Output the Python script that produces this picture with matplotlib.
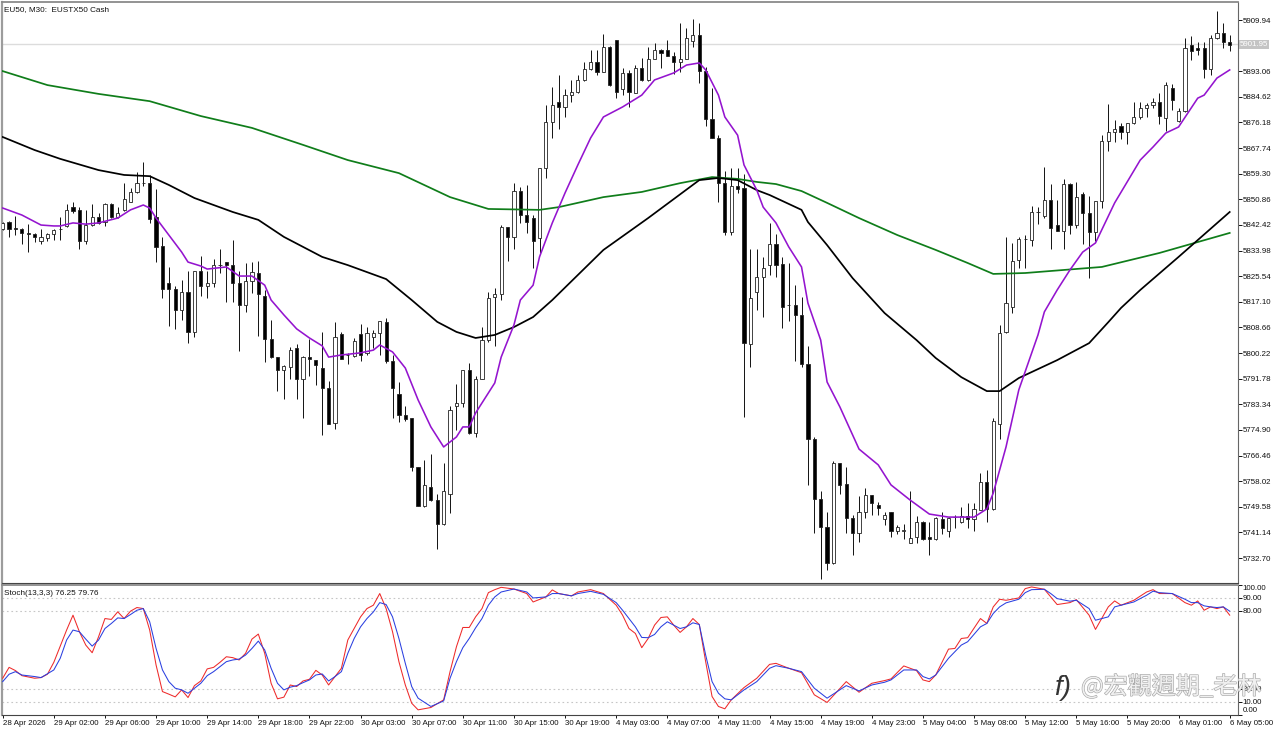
import matplotlib
matplotlib.use('Agg')
import matplotlib.pyplot as plt
import matplotlib.patheffects as pe

W, H = 1280, 731

# EU50 M30 candles
opens = [5841.1,5843.3,5841.3,5841.1,5839.7,5839.6,5837.3,5838.2,5839.3,5841.0,
         5842.0,5848.2,5847.2,5837.1,5842.3,5845.2,5843.4,5849.3,5845.2,5847.2,
         5850.1,5853.2,5856.1,5856.2,5845.0,5835.4,5823.3,5821.2,5814.3,5820.4,
         5807.2,5827.4,5822.2,5823.2,5829.3,5830.3,5829.3,5823.2,5815.9,5823.9,
         5826.7,5818.9,5804.9,5798.8,5794.8,5795.8,5801.8,5791.7,5798.8,5797.8,
         5795.4,5788.8,5777.1,5806.4,5799.6,5799.4,5806.4,5800.1,5805.6,5806.7,
         5810.6,5797.7,5786.7,5779.8,5778.8,5762.8,5749.7,5756.0,5751.8,5743.8,
         5753.7,5782.7,5783.8,5794.5,5773.8,5791.7,5804.5,5818.7,5819.6,5841.6,
         5838.5,5853.6,5845.6,5844.6,5838.2,5861.1,5876.2,5883.0,5881.2,5885.1,
         5886.1,5890.2,5893.9,5896.2,5892.9,5901.2,5903.3,5887.1,5892.4,5886.0,
         5894.0,5890.1,5897.1,5900.1,5900.1,5898.2,5896.1,5897.2,5903.1,5905.1,
         5893.3,5877.2,5871.2,5856.1,5840.2,5855.3,5854.5,5803.2,5820.4,5825.4,
         5829.2,5836.2,5829.5,5816.2,5816.2,5812.8,5796.6,5771.9,5752.1,5743.1,
         5731.0,5763.9,5757.0,5746.0,5740.9,5748.0,5753.4,5750.1,5745.6,5747.8,
         5741.7,5741.7,5737.8,5739.5,5744.7,5739.5,5738.9,5745.6,5741.7,5746.1,
         5744.5,5746.6,5745.7,5748.6,5757.8,5748.8,5776.8,5807.3,5815.5,5830.9,
         5837.7,5837.5,5846.6,5845.5,5850.6,5842.4,5840.5,5855.8,5842.4,5852.5,
         5846.5,5840.0,5850.2,5870.2,5872.9,5875.0,5872.9,5875.9,5877.9,5880.8,
         5881.8,5883.0,5877.5,5887.4,5876.6,5879.9,5901.7,5900.6,5900.6,5893.7,
         5903.9,5905.6,5902.8]
closes = [5843.2,5841.2,5841.1,5839.7,5839.6,5838.5,5838.4,5839.3,5840.9,5841.1,
          5847.2,5847.0,5837.1,5842.3,5845.2,5843.2,5849.3,5845.2,5846.3,5851.1,
          5853.4,5856.1,5856.2,5844.3,5835.3,5821.2,5821.2,5814.3,5820.5,5807.2,
          5827.3,5822.2,5823.2,5829.3,5829.4,5829.3,5823.2,5815.9,5823.9,5826.8,
          5819.8,5804.9,5798.8,5794.8,5796.0,5801.4,5791.7,5798.8,5798.4,5796.4,
          5788.7,5777.0,5805.4,5798.3,5799.5,5804.3,5799.5,5806.7,5806.7,5810.7,
          5797.7,5788.7,5779.8,5778.6,5762.6,5749.9,5756.7,5751.7,5743.8,5754.9,
          5781.6,5783.8,5794.5,5773.8,5791.7,5804.5,5818.4,5819.7,5841.6,5838.5,
          5853.6,5845.6,5843.5,5837.3,5861.3,5876.2,5881.9,5881.2,5885.1,5886.1,
          5890.2,5893.9,5896.2,5892.9,5901.2,5888.5,5886.1,5892.4,5886.1,5894.0,
          5890.1,5897.2,5900.2,5899.0,5898.2,5896.1,5897.2,5904.1,5905.1,5893.3,
          5877.2,5871.2,5856.1,5840.2,5855.3,5854.2,5803.4,5818.3,5825.4,5828.4,
          5836.2,5829.2,5815.5,5816.1,5812.8,5796.6,5771.9,5752.1,5743.1,5731.0,
          5763.9,5756.9,5745.8,5740.9,5748.0,5753.4,5751.0,5749.1,5746.9,5741.6,
          5742.8,5741.8,5739.4,5744.7,5738.9,5738.9,5745.8,5742.6,5745.8,5746.2,
          5746.6,5745.7,5748.8,5757.8,5748.8,5777.9,5806.7,5816.6,5830.7,5837.7,
          5837.8,5846.6,5846.7,5850.6,5841.3,5840.5,5855.8,5842.4,5851.5,5846.3,
          5840.0,5850.2,5870.2,5872.9,5874.0,5872.9,5875.9,5878.1,5880.8,5881.9,
          5883.0,5878.4,5888.5,5883.6,5879.9,5900.6,5899.8,5900.1,5893.8,5903.9,
          5905.6,5902.8,5901.7]
highs = [5843.5,5843.6,5845.5,5841.3,5842.7,5839.8,5841.2,5839.7,5841.2,5844.9,
         5849.3,5850.1,5848.2,5847.2,5849.3,5846.3,5849.6,5849.6,5848.2,5856.1,
         5854.7,5860.0,5863.3,5858.9,5854.4,5838.4,5828.5,5822.3,5824.3,5827.4,
         5827.4,5832.2,5827.4,5831.2,5834.4,5830.3,5837.5,5827.4,5830.0,5830.1,
         5830.7,5821.0,5811.1,5799.0,5796.3,5802.1,5803.2,5799.3,5804.8,5798.1,
         5807.1,5791.0,5810.4,5807.1,5800.1,5805.3,5809.8,5808.7,5807.8,5810.7,
         5811.7,5799.6,5790.6,5782.8,5778.8,5762.8,5765.0,5766.9,5753.8,5763.9,
         5782.8,5790.0,5794.6,5796.8,5792.7,5808.9,5820.3,5821.7,5842.4,5841.8,
         5856.1,5855.0,5855.6,5845.7,5861.3,5881.9,5888.0,5891.8,5887.1,5890.2,
         5891.8,5896.2,5900.1,5900.1,5905.3,5901.4,5903.4,5894.0,5893.5,5895.1,
         5897.3,5901.2,5902.3,5900.3,5903.4,5899.5,5909.1,5907.2,5910.2,5909.1,
         5894.4,5887.4,5872.1,5860.3,5861.1,5861.1,5859.2,5834.4,5834.4,5832.0,
         5843.2,5839.5,5832.0,5830.0,5822.7,5818.8,5802.7,5772.5,5754.9,5748.0,
         5764.8,5764.1,5762.8,5746.9,5753.2,5755.9,5753.5,5751.3,5748.0,5747.8,
         5743.6,5743.8,5754.8,5746.6,5744.8,5744.7,5746.3,5747.8,5746.3,5746.9,
         5749.6,5750.7,5750.7,5760.6,5761.7,5778.7,5809.5,5838.6,5836.6,5838.6,
         5839.1,5848.8,5848.4,5861.6,5855.8,5850.6,5857.6,5856.4,5856.5,5853.4,
         5852.1,5850.3,5872.1,5882.2,5877.0,5875.9,5876.1,5883.0,5883.0,5882.5,
         5884.4,5886.0,5889.6,5888.8,5880.8,5903.9,5904.8,5902.8,5902.8,5905.0,
         5912.9,5908.8,5905.0]
lows = [5840.8,5838.4,5839.1,5836.2,5833.6,5836.7,5836.0,5837.1,5837.5,5837.5,
        5841.8,5846.3,5834.4,5836.0,5842.1,5842.7,5842.1,5844.6,5844.7,5847.0,
        5849.9,5852.8,5855.3,5843.2,5830.3,5818.3,5809.2,5808.1,5811.1,5803.4,
        5805.4,5819.1,5818.3,5821.9,5826.7,5817.1,5817.1,5800.8,5813.9,5819.9,
        5805.9,5797.3,5798.5,5787.6,5785.0,5791.6,5785.0,5778.7,5792.7,5789.6,
        5773.1,5776.9,5775.3,5798.2,5796.5,5799.0,5797.7,5799.6,5801.8,5799.6,
        5796.8,5778.7,5777.6,5777.7,5761.5,5749.9,5749.6,5751.6,5735.8,5743.7,
        5747.7,5774.9,5782.6,5773.6,5772.7,5791.6,5804.0,5802.7,5817.7,5830.7,
        5834.6,5843.0,5839.7,5828.1,5833.1,5858.0,5871.2,5873.9,5877.9,5883.0,
        5885.8,5889.9,5893.5,5891.8,5892.8,5888.3,5884.1,5885.1,5881.2,5885.8,
        5890.0,5890.0,5897.0,5894.0,5898.1,5892.2,5892.9,5897.0,5901.2,5889.1,
        5875.0,5871.0,5850.1,5839.1,5839.1,5853.1,5779.3,5795.5,5814.4,5812.2,
        5825.9,5825.4,5808.4,5810.9,5797.7,5795.8,5756.8,5740.9,5725.8,5728.8,
        5730.8,5753.7,5740.9,5733.7,5737.9,5745.8,5746.9,5746.9,5743.6,5739.5,
        5740.5,5738.9,5737.7,5737.8,5738.7,5733.7,5738.7,5740.5,5739.5,5742.7,
        5744.4,5742.5,5741.7,5748.5,5744.5,5748.5,5771.9,5806.8,5813.3,5828.4,
        5828.4,5835.6,5842.6,5844.6,5834.5,5840.4,5834.5,5839.3,5841.5,5836.0,
        5825.1,5837.3,5847.9,5866.9,5869.9,5870.6,5869.1,5875.7,5877.2,5877.9,
        5880.8,5875.7,5873.5,5880.3,5876.3,5879.6,5896.8,5898.4,5890.7,5891.8,
        5903.7,5900.6,5899.8]

# moving averages, read at these bars
purple_bars = [0,3,6,8,9,11,13,15,18,20,22,23,24,26,28,29,31,32,35,37,39,41,42,44,46,48,50,51,53,56,58,59,61,63,65,67,69,71,72,73,74,77,78,80,81,83,84,86,88,90,92,94,97,100,102,105,107,109,110,112,113,115,116,118,119,121,123,125,126,128,129,131,134,137,139,142,145,148,152,154,155,157,159,162,163,165,167,169,171,174,178,180,182,184,187,188,190,192]
purple_ma = [5848.0,5845.7,5842.4,5842.1,5842.1,5843.1,5842.7,5843.1,5844.7,5847.4,5849.0,5848.0,5844.7,5839.1,5833.5,5830.2,5828.9,5827.9,5828.6,5825.6,5825.6,5822.6,5817.7,5812.8,5808.2,5805.2,5802.6,5798.9,5799.6,5800.3,5801.2,5802.9,5800.6,5795.3,5784.8,5775.9,5769.3,5772.6,5775.9,5775.9,5780.5,5790.4,5798.9,5809.5,5817.7,5822.6,5831.9,5843.1,5853.0,5862.2,5871.1,5878.0,5881.3,5885.2,5890.2,5892.5,5895.1,5895.8,5893.5,5885.2,5878.0,5872.0,5862.2,5853.9,5848.3,5843.1,5835.2,5828.6,5816.7,5804.5,5790.7,5782.5,5768.6,5763.4,5756.8,5751.8,5747.2,5746.2,5746.2,5748.9,5754.1,5769.3,5788.1,5806.2,5813.8,5821.0,5827.6,5833.5,5836.5,5849.7,5863.8,5868.1,5872.7,5874.7,5884.2,5885.2,5890.8,5893.5]
black_bars = [0,5,9,15,19,23,26,30,36,40,44,50,54,60,64,68,71,74,77,80,83,86,94,101,109,112,115,118,120,125,126,129,133,138,143,146,150,154,156,159,165,170,173,175,178,184,192]
black_ma = [5871.4,5867.1,5864.2,5860.5,5858.9,5858.5,5855.6,5851.3,5846.7,5844.1,5838.5,5831.9,5829.2,5824.6,5817.7,5810.5,5807.2,5805.2,5806.2,5808.8,5812.1,5817.7,5834.2,5844.7,5857.2,5857.9,5857.2,5853.9,5852.3,5847.4,5843.4,5835.8,5824.9,5813.4,5804.5,5798.6,5792.3,5787.7,5787.7,5792.0,5797.9,5803.5,5810.4,5815.1,5821.0,5831.9,5846.7]
green_bars = [0,7,15,23,31,39,47,54,62,70,76,84,87,94,100,106,111,115,118,121,125,129,134,140,146,151,155,160,172,181,186,192]
green_ma = [5893.1,5888.5,5885.6,5883.2,5878.3,5874.4,5868.8,5863.8,5859.5,5851.6,5847.7,5847.4,5848.3,5851.6,5853.3,5856.2,5858.2,5857.6,5856.6,5855.9,5853.6,5849.7,5844.7,5839.1,5834.2,5829.9,5826.3,5826.6,5828.6,5833.2,5836.2,5839.8]

# stochastic
k_bars = [0,1,2,3,5,6,7,8,10,11,12,13,14,15,16,17,18,19,20,21,22,23,24,25,26,27,28,29,30,31,32,33,34,35,36,37,38,39,40,41,42,43,44,45,46,47,48,49,50,51,52,53,54,55,56,57,58,59,60,61,62,63,64,65,67,69,70,71,72,73,74,75,76,77,78,80,82,83,85,86,87,89,90,92,94,96,97,98,99,100,101,102,103,104,105,106,107,108,109,110,111,112,113,114,116,118,120,121,123,125,127,129,132,134,136,138,139,141,143,144,145,146,148,149,150,151,153,154,155,156,157,159,160,161,163,164,165,167,168,170,171,173,174,175,177,179,180,181,183,185,186,187,188,189,190,191,192]
k_vals = [28.0,36.4,33.9,30.0,28.0,28.5,31.1,40.3,65.2,76.7,63.9,53.6,47.7,60.0,74.1,73.4,79.3,74.1,79.8,82.6,81.8,65.2,38.2,17.7,15.7,13.6,19.0,13.1,22.3,25.9,35.2,36.4,40.3,44.6,43.9,42.1,47.2,58.2,62.1,47.2,24.1,12.1,13.4,22.8,21.6,25.9,27.2,34.1,30.5,22.8,29.3,35.7,57.5,66.4,75.4,81.8,84.4,93.4,81.8,63.9,40.8,22.8,8.7,3.6,5.4,11.3,33.1,52.3,67.2,67.2,75.4,81.8,94.1,96.4,98.2,96.9,93.4,86.9,90.8,96.2,93.4,91.6,94.6,96.4,93.4,84.4,76.7,66.4,62.6,51.6,58.7,69.0,74.9,75.4,69.0,63.4,67.7,74.1,69.5,40.8,13.9,6.2,4.4,11.3,20.8,28.0,38.7,39.5,35.7,32.3,15.2,9.3,25.4,17.2,24.1,26.2,27.5,37.5,33.9,26.7,25.4,30.5,50.5,51.0,58.7,59.3,74.1,70.3,83.1,89.0,88.2,90.0,97.2,98.5,96.7,90.8,84.9,86.4,88.7,76.7,65.7,83.1,87.7,84.4,88.2,94.6,96.4,93.4,93.4,86.4,84.4,87.7,80.5,83.1,81.8,83.1,76.7]
d_bars = [0,1,2,3,5,6,8,9,10,11,12,13,14,15,16,17,18,19,20,21,22,23,24,25,26,27,28,29,30,31,32,33,34,35,36,37,38,39,40,41,42,43,44,45,46,47,48,49,50,51,52,53,54,55,56,57,58,59,60,61,62,63,64,65,67,69,70,71,72,73,74,75,76,77,78,80,82,83,85,86,87,89,90,92,94,96,97,98,99,100,101,102,103,104,105,106,107,108,109,110,111,112,113,114,116,118,120,121,123,125,127,129,132,134,136,138,139,141,143,144,145,146,148,149,150,151,153,154,155,156,157,159,160,161,163,164,165,167,168,170,171,173,174,175,177,179,180,181,183,185,186,187,188,189,190,191,192]
d_vals = [25.4,31.1,33.1,30.5,29.3,28.5,34.4,43.4,57.5,65.2,63.9,58.2,52.8,57.5,66.4,70.3,74.6,74.1,77.2,80.5,81.8,71.6,51.0,34.4,25.4,20.3,19.0,16.4,20.3,24.1,30.0,33.1,37.0,40.8,42.1,42.8,45.9,51.0,56.7,49.8,35.7,24.1,19.0,21.1,22.3,24.6,26.7,30.5,31.3,25.9,29.3,33.1,47.2,58.7,67.7,74.1,79.2,86.4,84.9,75.4,58.7,39.5,21.6,12.6,6.2,10.5,28.0,40.8,51.6,58.7,66.9,74.1,84.4,90.8,94.6,96.9,94.6,90.0,90.8,93.4,93.4,91.6,93.4,95.1,92.8,86.4,80.5,74.1,67.7,59.5,59.3,61.8,67.7,71.6,69.0,66.4,67.7,70.8,69.5,45.9,25.4,16.4,12.1,11.3,19.0,25.4,35.7,37.7,35.7,33.1,20.3,12.6,22.3,18.2,22.8,24.9,26.7,34.4,34.4,29.3,27.5,30.5,43.4,48.5,53.6,56.2,67.7,70.3,78.0,83.1,86.2,89.0,94.1,96.4,96.7,93.4,89.5,87.5,88.2,81.8,72.8,75.4,83.1,84.4,86.9,92.1,95.2,94.1,93.4,89.0,86.4,86.4,83.9,83.1,82.6,83.1,79.8]

price_ticks = [5909.94,5893.06,5884.62,5876.18,5867.74,5859.30,5850.86,5842.42,5833.98,5825.54,5817.10,5808.66,5800.22,5791.78,5783.34,5774.90,5766.46,5758.02,5749.58,5741.14,5732.70]
last_price = 5901.95
stoch_levels = [10, 20, 80, 90]
date_labels = ['28 Apr 2026','29 Apr 02:00','29 Apr 06:00','29 Apr 10:00','29 Apr 14:00','29 Apr 18:00','29 Apr 22:00','30 Apr 03:00','30 Apr 07:00','30 Apr 11:00','30 Apr 15:00','30 Apr 19:00','4 May 03:00','4 May 07:00','4 May 11:00','4 May 15:00','4 May 19:00','4 May 23:00','5 May 04:00','5 May 08:00','5 May 12:00','5 May 16:00','5 May 20:00','6 May 01:00','6 May 05:00']

plt.rcParams['font.family'] = ['Liberation Sans', 'DejaVu Sans']
plt.rcParams['font.size'] = 5.7


def panel(left, top, right, bottom):
    return fig.add_axes([left / W, 1 - bottom / H, (right - left) / W, (bottom - top) / H])


fig = plt.figure(figsize=(W / 100, H / 100), dpi=100, facecolor='white')
ax = panel(2, 2, 1238, 583)
ax2 = panel(2, 585, 1238, 714.5)

bars = list(range(len(opens)))
ax.vlines(bars, lows, highs, color='#111111', lw=0.7, zorder=2)
body_bottom = [min(o, c) for o, c in zip(opens, closes)]
body_height = [abs(o - c) for o, c in zip(opens, closes)]
body_color = ['white' if c >= o else 'black' for o, c in zip(opens, closes)]
ax.bar(bars, body_height, bottom=body_bottom, width=0.5, color=body_color, edgecolor='#222222', lw=0.6, zorder=3)

ax.axhline(last_price, color='#dcdcdc', lw=1, zorder=1)
ax.plot(green_bars, green_ma, color='#0f7d1a', lw=1.25, zorder=4)
ax.plot(black_bars, black_ma, color='black', lw=1.25, zorder=5)
ax.plot(purple_bars, purple_ma, color='#9414cf', lw=1.15, zorder=6)

ax.set_xlim(-0.11, 193.3)
ax.set_ylim(5724.49, 5915.87)
ax.set_xticks([])
ax.yaxis.tick_right()
ax.set_yticks(price_ticks, [f'{p:.2f}' for p in price_ticks])
ax.tick_params(axis='y', length=2.6, width=0.7, pad=0.6, colors='#111111')
ax.text(0.0018, 0.9925, 'EU50, M30:  EUSTX50 Cash', transform=ax.transAxes, va='top', fontsize=5.9, color='#111111')
ax.text(1.0015, last_price, f'{last_price:.2f}', transform=ax.get_yaxis_transform(), va='center', ha='left',
        color='white', bbox=dict(boxstyle='square,pad=0.15', fc='#c4c4c4', ec='none'), clip_on=False)

# stochastic panel
for lev in stoch_levels:
    ax2.axhline(lev, color='#c6c6c6', lw=0.8, ls=(0, (1.5, 2.5)), zorder=1)
ax2.plot(k_bars, k_vals, color='#ee2a2a', lw=0.75, zorder=3)
ax2.plot(d_bars, d_vals, color='#2a3fe0', lw=0.75, zorder=4)
ax2.set_xlim(-0.11, 193.3)
ax2.set_ylim(0, 100)
ax2.yaxis.tick_right()
ax2.set_yticks([100, 90, 80, 20, 10, 0], ['100.00', '90.00', '80.00', '20.00', '10.00', '0.00'])
ax2.get_yticklabels()[0].set_va('top')
ax2.get_yticklabels()[5].set_va('bottom')
ax2.tick_params(axis='y', length=2.6, width=0.7, pad=0.6, colors='#111111')
ax2.set_xticks(range(0, 193, 8), date_labels, ha='left')
ax2.tick_params(axis='x', length=2.4, width=0.7, pad=1.5, colors='#111111')
for lab in ax2.get_xticklabels():
    lab.set_x(lab.get_position()[0])
ax2.text(0.0018, 0.96, 'Stoch(13,3,3) 76.25 79.76', transform=ax2.transAxes, va='top', fontsize=5.9, color='#111111')

for a in (ax, ax2):
    a.spines['left'].set_color('#9c9c9c')
    a.spines['left'].set_linewidth(1.6)
    a.spines['top'].set_color('#8a8a8a')
    a.spines['top'].set_linewidth(1.3)
    a.spines['right'].set_color('#666666')
    a.spines['bottom'].set_color('#444444')
    a.spines['right'].set_linewidth(0.8)
    a.spines['bottom'].set_linewidth(0.8)

# watermark
wm = fig.text(1081 / W, 1 - 687 / H, '@宏觀週期_老林', family=['Noto Sans CJK TC', 'DejaVu Sans'], fontsize=17.3,
              va='center', ha='left', color='#f0f0f0', zorder=10)
wm.set_path_effects([pe.withStroke(linewidth=0.9, foreground='#a8a8a8')])
fig.text(1063 / W, 1 - 688 / H, 'f)', fontsize=20, style='italic', va='center', ha='center', color='#333333', zorder=10)

fig.savefig('out.png', dpi=100)
